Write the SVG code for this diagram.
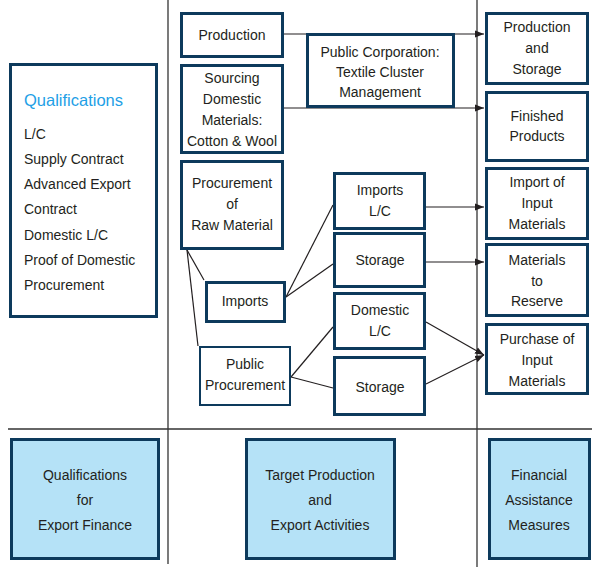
<svg xmlns="http://www.w3.org/2000/svg" width="600" height="570" viewBox="0 0 600 570">
<defs>
<style>
.b{fill:#fff;stroke:#0d3a5c;stroke-width:3}
.f{fill:#b5e2f7;stroke:#0d3a5c;stroke-width:3}
text{font-family:"Liberation Sans",Arial,sans-serif;font-size:14px;fill:#231f20}
.c{text-anchor:middle}
.t{fill:#1ea0e6;font-size:16.5px;font-weight:bold}
.l{fill:none;stroke:#231f20;stroke-width:1.2}
.a{fill:none;stroke:#231f20;stroke-width:1.2;marker-end:url(#ar)}
.g{fill:none;stroke:#333;stroke-width:1.3}
</style>
<marker id="ar" markerWidth="10" markerHeight="8" refX="9" refY="4" orient="auto" markerUnits="userSpaceOnUse">
<path d="M0,0.5 L9,4 L0,7.5 Z" fill="#231f20"/>
</marker>
</defs>
<g id="grid">
<line class="g" x1="168" y1="0" x2="168" y2="564"/>
<line class="g" x1="477" y1="0" x2="477" y2="567"/>
<line class="g" x1="8" y1="429" x2="592" y2="429"/>
</g>
<g id="connectors">
<polyline class="a" points="284,34 484,34"/>
<polyline class="a" points="284,108 484,108"/>
<line class="l" x1="187" y1="250" x2="204" y2="280"/>
<line class="l" x1="187" y1="250" x2="198" y2="346"/>
<line class="l" x1="286" y1="297" x2="333" y2="205"/>
<line class="l" x1="286" y1="297" x2="333" y2="264"/>
<line class="l" x1="291" y1="377" x2="333" y2="327"/>
<line class="l" x1="291" y1="377" x2="333" y2="388"/>
<line class="a" x1="426" y1="207" x2="484" y2="207"/>
<line class="a" x1="426" y1="262" x2="484" y2="262"/>
<line class="a" x1="426" y1="322" x2="484" y2="355"/>
<line class="a" x1="426" y1="384" x2="484" y2="355"/>
</g>
<g id="qualifications">
<rect class="b" x="10.5" y="64.5" width="146" height="252"/>
<text class="t" x="24" y="106" style="font-weight:normal">Qualifications</text>
<text x="24" y="139">L/C</text>
<text x="24" y="164">Supply Contract</text>
<text x="24" y="189">Advanced Export</text>
<text x="24" y="214">Contract</text>
<text x="24" y="240">Domestic L/C</text>
<text x="24" y="265">Proof of Domestic</text>
<text x="24" y="290">Procurement</text>
</g>
<g id="production">
<rect class="b" x="181.5" y="13.5" width="101" height="43"/>
<text class="c" x="232" y="40">Production</text>
</g>
<g id="sourcing">
<rect class="b" x="181.5" y="65.5" width="101" height="87"/>
<text class="c" x="232" y="83">Sourcing</text>
<text class="c" x="232" y="104">Domestic</text>
<text class="c" x="232" y="125">Materials:</text>
<text class="c" x="232" y="146">Cotton &amp; Wool</text>
</g>
<g id="procurement">
<rect class="b" x="181.5" y="161.5" width="101" height="87"/>
<text class="c" x="232" y="188">Procurement</text>
<text class="c" x="232" y="209">of</text>
<text class="c" x="232" y="230">Raw Material</text>
</g>
<g id="public-corporation">
<rect class="b" x="307.5" y="34.5" width="146" height="72"/>
<text class="c" x="380" y="57">Public Corporation:</text>
<text class="c" x="380" y="77">Textile Cluster</text>
<text class="c" x="380" y="97">Management</text>
</g>
<g id="imports-lc">
<rect class="b" x="334.5" y="173.5" width="90" height="55"/>
<text class="c" x="380" y="195">Imports</text>
<text class="c" x="380" y="216">L/C</text>
</g>
<g id="storage-1">
<rect class="b" x="334.5" y="233.5" width="90" height="53"/>
<text class="c" x="380" y="265">Storage</text>
</g>
<g id="domestic-lc">
<rect class="b" x="334.5" y="293.5" width="90" height="55"/>
<text class="c" x="380" y="315">Domestic</text>
<text class="c" x="380" y="336">L/C</text>
</g>
<g id="storage-2">
<rect class="b" x="334.5" y="357.5" width="90" height="57"/>
<text class="c" x="380" y="392">Storage</text>
</g>
<g id="imports">
<rect class="b" x="206.5" y="282.5" width="78" height="39"/>
<text class="c" x="245" y="306">Imports</text>
</g>
<g id="public-procurement">
<rect class="b" x="200" y="347" width="90" height="58" style="stroke-width:2"/>
<text class="c" x="245" y="369">Public</text>
<text class="c" x="245" y="390">Procurement</text>
</g>
<g id="production-storage">
<rect class="b" x="486.5" y="13.5" width="101" height="70"/>
<text class="c" x="537" y="32">Production</text>
<text class="c" x="537" y="53">and</text>
<text class="c" x="537" y="74">Storage</text>
</g>
<g id="finished-products">
<rect class="b" x="486.5" y="92.5" width="101" height="68"/>
<text class="c" x="537" y="121">Finished</text>
<text class="c" x="537" y="141">Products</text>
</g>
<g id="import-input">
<rect class="b" x="486.5" y="168.5" width="101" height="70"/>
<text class="c" x="537" y="187">Import of</text>
<text class="c" x="537" y="208">Input</text>
<text class="c" x="537" y="229">Materials</text>
</g>
<g id="materials-reserve">
<rect class="b" x="486.5" y="244.5" width="101" height="71"/>
<text class="c" x="537" y="265">Materials</text>
<text class="c" x="537" y="286">to</text>
<text class="c" x="537" y="306">Reserve</text>
</g>
<g id="purchase-input">
<rect class="b" x="486.5" y="324.5" width="101" height="69"/>
<text class="c" x="537" y="344">Purchase of</text>
<text class="c" x="537" y="365">Input</text>
<text class="c" x="537" y="386">Materials</text>
</g>
<g id="qualifications-export-finance">
<rect class="f" x="11.5" y="439.5" width="147" height="119"/>
<text class="c" x="85" y="480">Qualifications</text>
<text class="c" x="85" y="505">for</text>
<text class="c" x="85" y="530">Export Finance</text>
</g>
<g id="target-production">
<rect class="f" x="246.5" y="439.5" width="148" height="119"/>
<text class="c" x="320" y="480">Target Production</text>
<text class="c" x="320" y="505">and</text>
<text class="c" x="320" y="530">Export Activities</text>
</g>
<g id="financial-assistance">
<rect class="f" x="489.5" y="439.5" width="100" height="119"/>
<text class="c" x="539" y="480">Financial</text>
<text class="c" x="539" y="505">Assistance</text>
<text class="c" x="539" y="530">Measures</text>
</g>
</svg>
